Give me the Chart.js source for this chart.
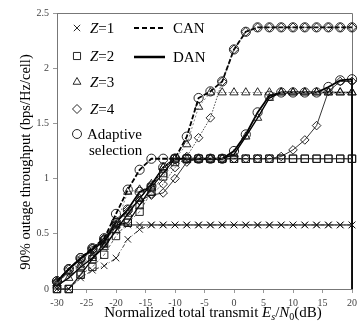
<!DOCTYPE html>
<html><head><meta charset="utf-8">
<script src="https://cdn.jsdelivr.net/npm/chart.js@4.4.1/dist/chart.umd.min.js"></script>
<style>html,body{margin:0;padding:0;background:#fff}#wrap{width:361px;height:323px}</style>
</head><body><div id="wrap"><canvas id="c" width="361" height="323"></canvas></div>
<script>
// x values (dB)
const snr = [-30,-28,-26,-24,-22,-20,-18,-16,-14,-12,-10,-8,-6,-4,-2,0,2,4,6,8,10,12,14,16,18,20];
const xTicks = [-30,-25,-20,-15,-10,-5,0,5,10,15,20];
const yTicks = [0,0.5,1,1.5,2,2.5];
// CAN series
const z1CAN = [0,0,0.1,0.17,0.21,0.28,0.45,0.54,0.58,0.58,0.58,0.58,0.58,0.58,0.58,0.58,0.58,0.58,0.58,0.58,0.58,0.58,0.58,0.58,0.58,0.58];
const z2CAN = [0,0,0.13,0.2,0.31,0.48,0.6,0.7,0.88,1.02,1.15,1.18,1.18,1.18,1.18,1.18,1.18,1.18,1.18,1.18,1.18,1.18,1.18,1.18,1.18,1.18];
const z3CAN = [0.05,0.15,0.22,0.3,0.4,0.58,0.88,0.9,0.92,1.1,1.18,1.31,1.65,1.78,1.78,1.78,1.78,1.78,1.78,1.78,1.78,1.78,1.78,1.78,1.78,1.78];
const z4CAN = [0.06,0.15,0.25,0.35,0.45,0.6,0.7,0.8,0.86,0.95,1.1,1.2,1.37,1.55,1.88,2.17,2.33,2.37,2.37,2.37,2.37,2.37,2.37,2.37,2.37,2.37];
const adCAN = [0.07,0.18,0.28,0.37,0.46,0.68,0.9,1.08,1.18,1.18,1.18,1.38,1.73,1.79,1.88,2.17,2.33,2.37,2.37,2.37,2.37,2.37,2.37,2.37,2.37,2.37];
// DAN series
const z1DAN = [0.05,0.17,0.27,0.35,0.43,0.58,0.58,0.58,0.58,0.58,0.58,0.58,0.58,0.58,0.58,0.58,0.58,0.58,0.58,0.58,0.58,0.58,0.58,0.58,0.58,0.58];
const z2DAN = [0,0,0.13,0.27,0.42,0.58,0.6,0.76,0.92,1.05,1.18,1.18,1.18,1.18,1.18,1.18,1.18,1.18,1.18,1.18,1.18,1.18,1.18,1.18,1.18,1.18];
const z3DAN = [0.03,0.1,0.2,0.28,0.38,0.53,0.68,0.82,0.95,1.1,1.18,1.18,1.18,1.18,1.18,1.22,1.38,1.55,1.73,1.78,1.78,1.78,1.78,1.78,1.78,1.78];
const z4DAN = [0.07,0.18,0.27,0.37,0.46,0.62,0.72,0.8,0.85,0.87,1.0,1.15,1.18,1.18,1.18,1.18,1.18,1.18,1.18,1.2,1.26,1.35,1.48,1.79,1.88,1.88];
const adDAN = [0.07,0.18,0.28,0.36,0.44,0.6,0.72,0.88,0.93,1.1,1.18,1.18,1.18,1.18,1.18,1.25,1.4,1.6,1.75,1.78,1.78,1.78,1.78,1.83,1.89,1.9];
const legendZ = ['1','2','3','4'];

const pts = arr => arr.map((v,i)=>({x:snr[i], y:v}));
const SERIF = "'Liberation Serif','Times New Roman',serif";
function ds(label, arr, style, dash, width, color, radius, mcolor){
  return {label, data: pts(arr), pointStyle: style, borderDash: dash, borderWidth: width,
    borderColor: color, backgroundColor:'rgba(0,0,0,0)', pointBorderColor: mcolor||'#111',
    pointBackgroundColor:'rgba(0,0,0,0)', pointRadius: radius, pointBorderWidth: 0.9,
    pointHoverRadius: radius, tension: 0, clip: false, fill:false};
}
// adaptive DAN closes down to the axis at the last x (artifact in reference)
const adDanSet = ds('Adaptive DAN', adDAN, 'circle', [], 1.8, '#000', 4.6);
adDanSet.data.push({x: snr[snr.length-1], y: 0});
adDanSet.pointRadius = adDanSet.data.map((p,i)=> i < adDAN.length ? 4.6 : 0);

const datasets = [
  ds('Z=1 CAN', z1CAN, 'crossRot', [4,2,1,2], 0.9, '#333', 4.6),
  ds('Z=2 CAN', z2CAN, 'rect', [3,2], 0.9, '#555', 5.2),
  ds('Z=3 CAN', z3CAN, 'triangle', [2,2], 1, '#888', 4.8),
  ds('Z=4 CAN', z4CAN, 'rectRot', [1.5,1.5], 0.8, '#222', 4.3),
  ds('Adaptive CAN', adCAN, 'circle', [5,2], 1.8, '#000', 4.6),
  ds('Z=1 DAN', z1DAN, 'crossRot', [], 1, '#000', 4.6),
  ds('Z=2 DAN', z2DAN, 'rect', [], 1.2, '#000', 5.2),
  ds('Z=3 DAN', z3DAN, 'triangle', [], 1.4, '#000', 4.8),
  ds('Z=4 DAN', z4DAN, 'rectRot', [], 0.8, '#000', 4.3),
  adDanSet
];

const framePlugin = {
  id:'frame',
  beforeDatasetsDraw(chart){
    const {ctx, chartArea:a} = chart;
    ctx.save(); ctx.strokeStyle='#777'; ctx.lineWidth=1;
    ctx.beginPath();
    ctx.moveTo(a.left, a.top+0.5); ctx.lineTo(a.right+0.5, a.top+0.5); ctx.lineTo(a.right+0.5, a.bottom);
    ctx.stroke(); ctx.restore();
  }
};

function mixed(ctx, parts, x, y){
  let cx = x;
  for (const [t, it, sub] of parts){
    const size = sub ? 10 : 15;
    ctx.font = (it?'italic ':'') + size + 'px ' + SERIF;
    ctx.fillText(t, cx, y + (sub?3:0));
    cx += ctx.measureText(t).width;
  }
  return cx - x;
}
function widthOf(ctx, parts){
  let w=0;
  for (const [t,it,sub] of parts){ ctx.font=(it?'italic ':'')+(sub?10:15)+'px '+SERIF; w+=ctx.measureText(t).width; }
  return w;
}

const textPlugin = {
  id:'texts',
  afterDraw(chart){
    const {ctx} = chart;
    ctx.save();
    ctx.fillStyle='#000'; ctx.textBaseline='alphabetic'; ctx.textAlign='left';
    // x title
    const xt = [['Normalized total transmit ',false,false],['E',true,false],['s',true,true],['/',false,false],['N',true,false],['0',false,true],['(dB)',false,false]];
    const w = widthOf(ctx, xt);
    mixed(ctx, xt, 213 - w/2, 317);
    // y title
    ctx.save();
    ctx.translate(30, 162); ctx.rotate(-Math.PI/2);
    ctx.font = '14.5px ' + SERIF; ctx.textAlign='center';
    ctx.fillText('90% outage throughput (bps/Hz/cell)', 0, 0);
    ctx.restore();
    // legend
    const markers = ['crossRot','rect','triangle','rectRot'];
    const ys = [28, 56, 82, 109];
    for (let i=0;i<4;i++){
      ctx.strokeStyle='#111'; ctx.fillStyle='rgba(0,0,0,0)';
      Chart.helpers.drawPoint(ctx, {pointStyle:markers[i], radius: i==1?5:4.5, rotation:0, borderWidth:0.9}, 77, ys[i]);
      ctx.fillStyle='#000';
      mixed(ctx, [['Z',true,false],['='+legendZ[i],false,false]], 90, ys[i]+5);
    }
    ctx.strokeStyle='#111'; ctx.fillStyle='rgba(0,0,0,0)';
    Chart.helpers.drawPoint(ctx, {pointStyle:'circle', radius:4.5, rotation:0, borderWidth:0.9}, 77, 134);
    ctx.fillStyle='#000';
    ctx.font='15px '+SERIF;
    ctx.fillText('Adaptive', 87, 139);
    ctx.fillText('selection', 89, 155);
    // line-style legend
    ctx.strokeStyle='#000';
    ctx.lineWidth=2; ctx.setLineDash([5,3]);
    ctx.beginPath(); ctx.moveTo(134,28); ctx.lineTo(165,28); ctx.stroke();
    ctx.setLineDash([]); ctx.lineWidth=2.5;
    ctx.beginPath(); ctx.moveTo(134,57); ctx.lineTo(165,57); ctx.stroke();
    ctx.fillText('CAN', 173, 33);
    ctx.fillText('DAN', 173, 62);
    ctx.restore();
  }
};

new Chart(document.getElementById('c'), {
  type:'line',
  data:{datasets},
  options:{
    responsive:false, animation:false, devicePixelRatio:1,
    layout:{padding:{left:0, top:13, right:4, bottom:0}},
    plugins:{legend:{display:false}, tooltip:{enabled:false}},
    scales:{
      x:{type:'linear', min:-30, max:20,
        afterBuildTicks(s){ s.ticks = xTicks.map(v=>({value:v})); },
        afterFit(s){ s.height = 34; },
        ticks:{font:{family:SERIF, size:10}, color:'#444', padding:4, maxRotation:0, autoSkip:false,
          callback:v=>String(v)},
        grid:{drawOnChartArea:false, drawTicks:true, tickLength:4, color:'#999'},
        border:{display:true, color:'#777', width:1}},
      y:{type:'linear', min:0, max:2.5,
        afterBuildTicks(s){ s.ticks = yTicks.map(v=>({value:v})); },
        afterFit(s){ s.width = 57; },
        ticks:{font:{family:SERIF, size:10}, color:'#444', padding:4, callback:v=>String(v)},
        grid:{drawOnChartArea:false, drawTicks:true, tickLength:4, color:'#999'},
        border:{display:true, color:'#777', width:1}}
    }
  },
  plugins:[framePlugin, textPlugin]
});
</script></body></html>
